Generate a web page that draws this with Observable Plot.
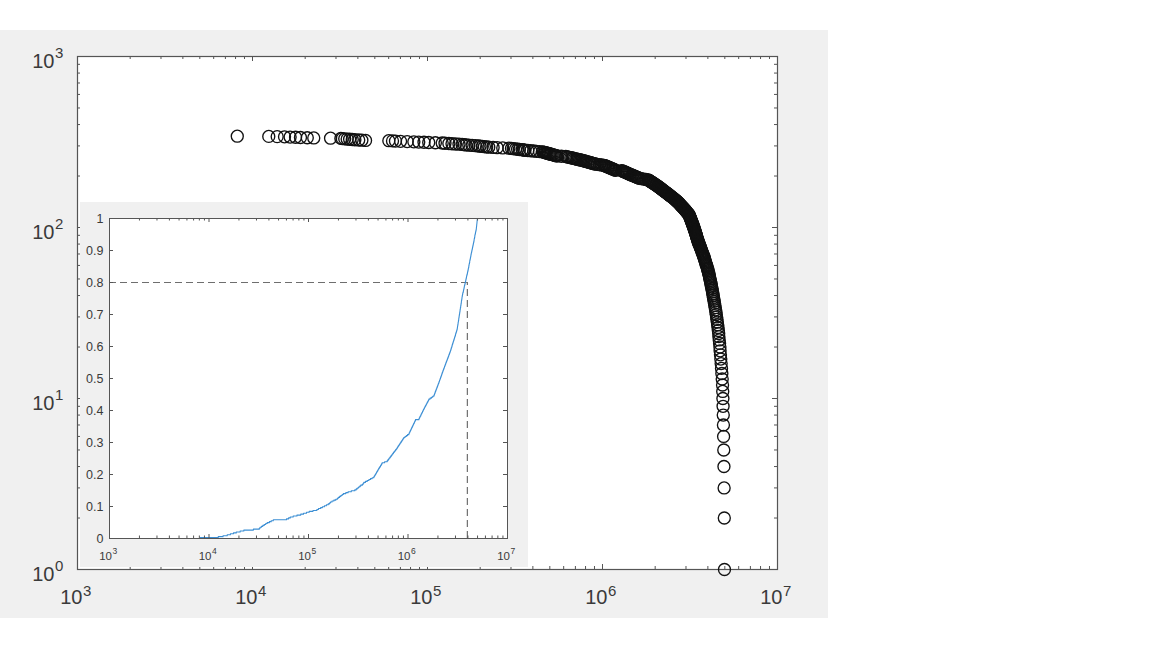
<!DOCTYPE html>
<html><head><meta charset="utf-8">
<script src="https://cdn.jsdelivr.net/npm/d3@7"></script>
<script src="https://cdn.jsdelivr.net/npm/@observablehq/plot@0.6"></script>
<style>
body{margin:0;background:#fff;width:1152px;height:648px;overflow:hidden;font-family:"Liberation Sans",Arial,sans-serif}
#fig{position:absolute;left:0;top:30px;width:828px;height:588px;background:#f0f0f0}
#main{position:absolute;left:0;top:0}
#inset{position:absolute;left:80px;top:172px;width:448px;height:365px;background:#f0f0f0}
</style></head><body>
<div id="fig"><div id="main"></div><div id="inset"></div></div>
<script>
// log10 of each value, sorted ascending
const valueLog10 = [
3.913,4.093,4.141,4.183,4.215,4.246,4.274,4.313,4.350,4.446,
4.505,4.513,4.527,4.541,4.555,4.570,4.585,4.607,4.625,4.646,
4.779,4.800,4.817,4.846,4.884,4.922,4.950,4.980,5.007,5.045,
5.084,5.100,5.122,5.140,5.160,5.180,5.198,5.210,5.220,5.236,
5.255,5.274,5.290,5.300,5.313,5.325,5.338,5.350,5.375,5.398,
5.430,5.465,5.480,5.490,5.503,5.515,5.525,5.541,5.550,5.556,
5.573,5.590,5.607,5.623,5.640,5.656,5.662,5.668,5.673,5.679,
5.684,5.690,5.695,5.700,5.706,5.712,5.718,5.724,5.730,5.735,
5.740,5.765,5.790,5.797,5.804,5.811,5.819,5.826,5.833,5.840,
5.847,5.854,5.861,5.869,5.876,5.883,5.890,5.896,5.902,5.908,
5.914,5.921,5.927,5.933,5.939,5.946,5.952,5.958,5.970,5.983,
5.995,6.008,6.012,6.017,6.021,6.026,6.030,6.035,6.039,6.044,
6.048,6.053,6.057,6.062,6.066,6.071,6.075,6.109,6.114,6.118,
6.123,6.128,6.132,6.137,6.142,6.146,6.151,6.155,6.160,6.165,
6.170,6.175,6.180,6.185,6.190,6.195,6.200,6.205,6.210,6.222,
6.235,6.248,6.260,6.264,6.267,6.271,6.274,6.278,6.281,6.285,
6.289,6.292,6.296,6.299,6.303,6.306,6.310,6.313,6.317,6.320,
6.323,6.327,6.330,6.333,6.337,6.340,6.343,6.346,6.350,6.353,
6.357,6.360,6.364,6.367,6.371,6.374,6.378,6.381,6.385,6.388,
6.392,6.396,6.399,6.403,6.406,6.410,6.413,6.417,6.420,6.424,
6.427,6.430,6.433,6.436,6.439,6.442,6.444,6.447,6.450,6.453,
6.456,6.459,6.462,6.465,6.468,6.471,6.474,6.477,6.479,6.482,
6.485,6.488,6.491,6.494,6.495,6.497,6.498,6.500,6.501,6.503,
6.504,6.506,6.507,6.509,6.510,6.511,6.513,6.514,6.516,6.517,
6.519,6.520,6.522,6.523,6.524,6.526,6.527,6.529,6.530,6.532,
6.533,6.535,6.536,6.537,6.539,6.540,6.542,6.543,6.545,6.546,
6.548,6.550,6.552,6.555,6.557,6.559,6.561,6.563,6.565,6.567,
6.569,6.571,6.574,6.576,6.578,6.580,6.582,6.584,6.586,6.588,
6.590,6.592,6.595,6.597,6.599,6.601,6.603,6.605,6.607,6.609,
6.611,6.612,6.614,6.616,6.618,6.620,6.621,6.623,6.625,6.627,
6.629,6.631,6.632,6.634,6.636,6.638,6.640,6.642,6.644,6.646,
6.648,6.650,6.652,6.654,6.656,6.658,6.660,6.662,6.664,6.665,
6.667,6.669,6.671,6.672,6.674,6.676,6.678,6.680,6.682,6.684,
6.686,6.687,6.688,6.689,6.690,6.691,6.692,6.693,6.694,6.695,
6.696,6.697
];
const thresholdShare = [0.8];
const thresholdValue = [3.95e6];
const mainXTicks = [1e3, 1e4, 1e5, 1e6, 1e7];
const mainYTicks = [1, 10, 100, 1000];
const insetXTicks = [1e3, 1e4, 1e5, 1e6, 1e7];
const insetYTicks = [0, 0.1, 0.2, 0.3, 0.4, 0.5, 0.6, 0.7, 0.8, 0.9, 1];

const values = valueLog10.map(v => 10 ** v);
const n = values.length;
const rankData = values.map((v, i) => ({value: v, rank: n - i}));
const cdfData = [{value: values[0], share: 0}].concat(values.map((v, i) => ({value: v, share: (i + 1) / n})));

function minorTicks(lo, hi) {
  const out = [];
  for (let d = lo; d < hi; d *= 10) for (let m = 2; m <= 9; m++) out.push(d * m);
  return out;
}
const exp = d => String(Math.round(Math.log10(d)));
const AX = "#555";
const TXT = "#3a3a3a";
const FONT = "'Liberation Sans', Arial, sans-serif";

// ---------- main chart ----------
{
  const W = 828, H = 588, mL = 77, mR = 51, mT = 26, mB = 49;
  const fw = W - mL - mR, fh = H - mT - mB;
  const xMinor = minorTicks(1e3, 1e7), yMinor = minorTicks(1, 1e3);
  const chart = Plot.plot({
    width: W, height: H, marginLeft: mL, marginRight: mR, marginTop: mT, marginBottom: mB,
    style: {background: "transparent", overflow: "visible", fontFamily: FONT},
    x: {type: "log", domain: [1e3, 1e7], nice: false, axis: null},
    y: {type: "log", domain: [1, 1e3], nice: false, axis: null},
    marks: [
      Plot.frame({fill: "white", stroke: null}),
      Plot.ruleX(mainXTicks, {x: d => d, insetTop: fh - 5, stroke: AX}),
      Plot.ruleX(mainXTicks, {x: d => d, insetBottom: fh - 5, stroke: AX}),
      Plot.ruleX(xMinor, {x: d => d, insetTop: fh - 3, stroke: AX}),
      Plot.ruleX(xMinor, {x: d => d, insetBottom: fh - 3, stroke: AX}),
      Plot.ruleY(mainYTicks, {y: d => d, insetRight: fw - 5, stroke: AX}),
      Plot.ruleY(mainYTicks, {y: d => d, insetLeft: fw - 5, stroke: AX}),
      Plot.ruleY(yMinor, {y: d => d, insetRight: fw - 3, stroke: AX}),
      Plot.ruleY(yMinor, {y: d => d, insetLeft: fw - 3, stroke: AX}),
      Plot.frame({stroke: AX, strokeWidth: 1.2}),
      Plot.dot(rankData, {x: "value", y: "rank", r: 6, stroke: "#111", strokeWidth: 1.35, fill: "none"}),
      Plot.text(mainXTicks, {x: d => d, frameAnchor: "bottom", text: () => "10", textAnchor: "end", lineAnchor: "bottom", dx: 5, dy: 34, fontSize: 20, fill: TXT}),
      Plot.text(mainXTicks, {x: d => d, frameAnchor: "bottom", text: exp, textAnchor: "start", lineAnchor: "bottom", dx: 5.5, dy: 26, fontSize: 15, fill: TXT}),
      Plot.text(mainYTicks, {y: d => d, frameAnchor: "left", text: () => "10", textAnchor: "end", lineAnchor: "bottom", dx: -23, dy: 11, fontSize: 20, fill: TXT}),
      Plot.text(mainYTicks, {y: d => d, frameAnchor: "left", text: exp, textAnchor: "start", lineAnchor: "bottom", dx: -22.5, dy: 1, fontSize: 15, fill: TXT})
    ]
  });
  document.getElementById("main").appendChild(chart);
}

// ---------- inset chart ----------
{
  const W = 448, H = 365, mL = 29, mR = 21, mT = 16, mB = 29;
  const fw = W - mL - mR, fh = H - mT - mB;
  const xMinor = minorTicks(1e3, 1e7);
  const chart = Plot.plot({
    width: W, height: H, marginLeft: mL, marginRight: mR, marginTop: mT, marginBottom: mB,
    style: {background: "transparent", overflow: "visible", fontFamily: FONT},
    x: {type: "log", domain: [1e3, 1e7], nice: false, axis: null},
    y: {type: "linear", domain: [0, 1], nice: false, axis: null},
    marks: [
      Plot.frame({fill: "white", stroke: null}),
      Plot.ruleY(thresholdShare, {y: d => d, x1: 1e3, x2: thresholdValue[0], stroke: "#6e6e6e", strokeWidth: 1.2, strokeDasharray: "7,4"}),
      Plot.ruleX(thresholdValue, {x: d => d, y1: 0, y2: thresholdShare[0], stroke: "#6e6e6e", strokeWidth: 1.2, strokeDasharray: "7,4"}),
      Plot.line(cdfData, {x: "value", y: "share", curve: "step-after", stroke: "#3d8fd4", strokeWidth: 1.1}),
      Plot.ruleX(insetXTicks, {x: d => d, insetTop: fh - 4, stroke: AX}),
      Plot.ruleX(insetXTicks, {x: d => d, insetBottom: fh - 4, stroke: AX}),
      Plot.ruleX(xMinor, {x: d => d, insetTop: fh - 2.5, stroke: AX}),
      Plot.ruleX(xMinor, {x: d => d, insetBottom: fh - 2.5, stroke: AX}),
      Plot.ruleY(insetYTicks, {y: d => d, insetRight: fw - 4, stroke: AX}),
      Plot.ruleY(insetYTicks, {y: d => d, insetLeft: fw - 4, stroke: AX}),
      Plot.frame({stroke: AX, strokeWidth: 1}),
      Plot.text(insetYTicks, {y: d => d, frameAnchor: "left", text: d => String(d), textAnchor: "end", dx: -6, fontSize: 12.5, fill: TXT}),
      Plot.text(insetXTicks, {x: d => d, frameAnchor: "bottom", text: () => "10", textAnchor: "end", lineAnchor: "bottom", dx: 2.5, dy: 21, fontSize: 11.5, fill: TXT}),
      Plot.text(insetXTicks, {x: d => d, frameAnchor: "bottom", text: exp, textAnchor: "start", lineAnchor: "bottom", dx: 3, dy: 15.5, fontSize: 8.5, fill: TXT})
    ]
  });
  document.getElementById("inset").appendChild(chart);
}
</script>
</body></html>
